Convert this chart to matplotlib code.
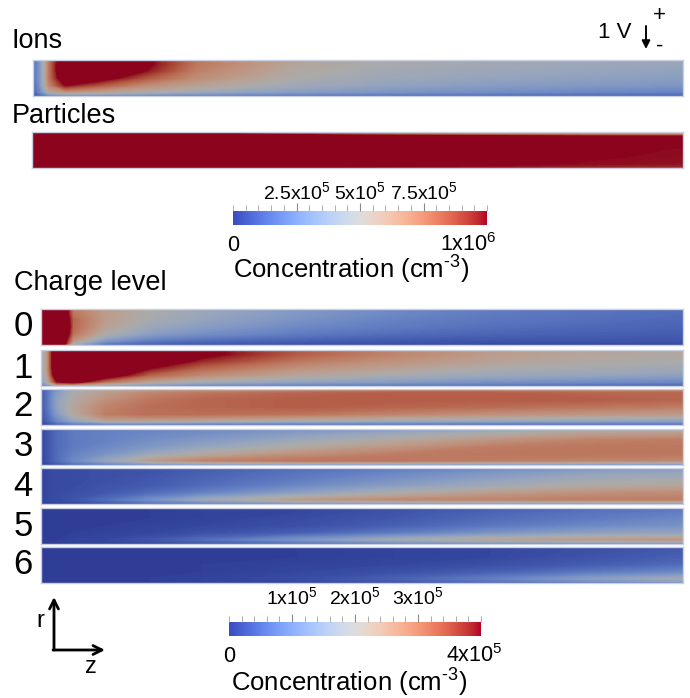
import numpy as np
import matplotlib
matplotlib.use('Agg')
import matplotlib.pyplot as plt
from matplotlib.colors import ListedColormap
import matplotlib.colorbar as mcolorbar
from matplotlib.colors import Normalize

plt.rcParams['font.family'] = ['Liberation Sans', 'DejaVu Sans']
plt.rcParams['mathtext.fontset'] = 'custom'
plt.rcParams['mathtext.rm'] = 'Liberation Sans'
plt.rcParams['mathtext.default'] = 'regular'

# ---------------- data (units of 1e5 cm^-3) ----------------
z_pos = [0, 0.01, 0.025, 0.05, 0.1, 0.17, 0.25, 0.4, 0.55, 0.7, 0.85, 1.0]   # along z
r_pos = [0, 0.04, 0.12, 0.3, 0.5, 0.7, 0.88, 0.96, 1.0]                      # depth from top edge

ions = [
    [1.5, 3.0, 7.5, 12, 12, 10.5, 7.5, 5.6, 4.9, 4.6, 4.4, 4.2],
    [1.5, 3.0, 7.5, 12, 12, 10.5, 7.5, 5.6, 4.9, 4.6, 4.4, 4.2],
    [1.5, 3.0, 7.5, 13, 13, 10.5, 7.5, 5.5, 4.8, 4.5, 4.3, 4.1],
    [1.5, 3.0, 7.5, 13, 13, 10.0, 7.2, 5.3, 4.6, 4.3, 4.1, 3.9],
    [1.4, 3.0, 7.5, 12, 11, 8.5, 6.7, 5.0, 4.3, 4.0, 3.8, 3.6],
    [1.3, 2.8, 7.0, 10, 8.5, 6.8, 5.8, 4.5, 3.9, 3.5, 3.3, 3.1],
    [1.1, 2.4, 5.5, 6.5, 6.0, 5.2, 4.5, 3.6, 3.1, 2.8, 2.5, 2.3],
    [0.8, 1.6, 3.2, 3.8, 3.5, 3.2, 2.8, 2.3, 2.0, 1.8, 1.6, 1.5],
    [0.3, 0.5, 0.8, 0.8, 0.8, 0.7, 0.6, 0.5, 0.4, 0.4, 0.4, 0.4],
]
particles = [
    [8, 8, 7, 6, 5, 3, 2, 0.5, 0, 0, 0, 0],
    [14, 14, 14, 13, 12, 11, 10, 8, 7, 6, 5.5, 5],
    [15, 15, 15, 15, 15, 15, 14, 12, 11, 10.5, 10.2, 10.0],
    [15, 15, 15, 15, 15, 15, 14, 12, 11, 10.5, 10.2, 10.0],
    [15, 15, 15, 15, 15, 15, 14, 12, 11, 10.5, 10.1, 9.9],
    [15, 15, 15, 15, 15, 14, 13, 12, 11, 10.4, 10.0, 9.85],
    [15, 15, 15, 15, 14, 13, 12, 11.5, 10.8, 10.2, 9.9, 9.8],
    [14, 14, 14, 13, 12, 11.5, 11, 10.5, 10.0, 9.8, 9.6, 9.5],
    [12, 12, 12, 11, 10.5, 10, 9.8, 9.5, 9.2, 9.0, 8.8, 8.5],
]
charge0 = [
    [8, 8, 6, 3.0, 2.4, 2.0, 1.7, 1.3, 1.0, 0.8, 0.7, 0.6],
    [8, 8, 6, 3.0, 2.4, 2.0, 1.7, 1.3, 1.0, 0.8, 0.7, 0.6],
    [8, 8, 6, 3.0, 2.4, 2.0, 1.7, 1.3, 1.0, 0.8, 0.7, 0.6],
    [8, 8, 6.5, 3.2, 2.4, 1.9, 1.6, 1.2, 0.9, 0.75, 0.65, 0.55],
    [8, 8, 7, 3.2, 2.3, 1.7, 1.4, 1.0, 0.8, 0.65, 0.55, 0.5],
    [8, 8, 6.5, 3.0, 2.0, 1.4, 1.1, 0.8, 0.6, 0.5, 0.45, 0.4],
    [8, 8, 6, 2.5, 1.3, 0.8, 0.6, 0.45, 0.35, 0.3, 0.3, 0.3],
    [8, 8, 6, 2.0, 0.8, 0.5, 0.4, 0.3, 0.25, 0.2, 0.2, 0.2],
    [8, 8, 5.5, 1.5, 0.5, 0.3, 0.2, 0.2, 0.1, 0.1, 0.1, 0.1],
]
charge1 = [
    [1.5, 2.2, 4.5, 6.5, 6.0, 4.5, 3.6, 2.9, 2.2, 1.6, 1.2, 1.0],
    [1.6, 2.5, 5.5, 8, 7.5, 5.3, 4.2, 3.3, 2.8, 2.4, 2.2, 2.1],
    [1.6, 2.5, 5.5, 8, 7.5, 5.3, 4.2, 3.3, 2.8, 2.4, 2.2, 2.1],
    [1.6, 2.5, 5.5, 8, 7.0, 4.8, 3.8, 3.0, 2.6, 2.3, 2.1, 2.0],
    [1.6, 2.5, 5.5, 7.5, 5.8, 4.0, 3.2, 2.6, 2.3, 2.0, 1.9, 1.8],
    [1.5, 2.4, 5.0, 6.5, 4.6, 3.2, 2.7, 2.2, 1.9, 1.7, 1.6, 1.5],
    [1.3, 2.1, 4.0, 4.5, 3.1, 2.3, 1.9, 1.6, 1.4, 1.2, 1.1, 1.0],
    [0.9, 1.5, 2.6, 2.7, 2.0, 1.5, 1.2, 1.0, 0.9, 0.8, 0.7, 0.6],
    [0.4, 0.7, 1.0, 1.0, 0.8, 0.6, 0.5, 0.4, 0.3, 0.3, 0.3, 0.3],
]
charge2 = [
    [0.2, 0.3, 0.6, 0.9, 1.0, 1.0, 1.0, 1.0, 1.0, 1.0, 1.0, 1.0],
    [0.3, 0.6, 1.2, 1.8, 2.2, 2.5, 2.6, 2.8, 2.9, 2.9, 2.8, 2.8],
    [0.3, 0.7, 1.4, 2.0, 2.4, 2.8, 3.0, 3.2, 3.3, 3.3, 3.2, 3.2],
    [0.3, 0.7, 1.5, 2.1, 2.6, 3.0, 3.2, 3.3, 3.3, 3.3, 3.3, 3.2],
    [0.3, 0.7, 1.5, 2.2, 2.8, 3.1, 3.2, 3.3, 3.2, 3.1, 3.0, 2.9],
    [0.3, 0.6, 1.3, 2.1, 2.9, 3.1, 3.1, 3.0, 2.8, 2.6, 2.5, 2.4],
    [0.2, 0.5, 1.0, 1.6, 2.3, 2.3, 2.2, 2.0, 1.8, 1.7, 1.6, 1.5],
    [0.1, 0.3, 0.6, 0.9, 1.1, 1.1, 1.0, 0.9, 0.9, 0.8, 0.8, 0.8],
    [0.1, 0.1, 0.2, 0.3, 0.3, 0.3, 0.3, 0.3, 0.3, 0.3, 0.3, 0.3],
]
charge3 = [
    [0.1, 0.1, 0.2, 0.3, 0.4, 0.5, 0.5, 0.6, 0.7, 0.7, 0.8, 0.8],
    [0.1, 0.3, 0.5, 0.7, 0.8, 0.9, 1.0, 1.2, 1.4, 1.6, 1.8, 1.9],
    [0.1, 0.3, 0.6, 0.8, 0.9, 1.0, 1.1, 1.4, 1.7, 2.0, 2.3, 2.4],
    [0.1, 0.3, 0.6, 0.8, 0.9, 1.1, 1.3, 1.7, 2.1, 2.5, 2.8, 2.9],
    [0.1, 0.3, 0.6, 0.8, 1.0, 1.3, 1.6, 2.1, 2.5, 2.9, 3.0, 3.0],
    [0.1, 0.3, 0.6, 0.9, 1.2, 1.7, 2.1, 2.6, 2.9, 3.0, 3.0, 3.0],
    [0.1, 0.3, 0.6, 1.0, 1.6, 2.4, 2.8, 3.0, 3.0, 2.9, 2.8, 2.7],
    [0.1, 0.2, 0.4, 0.7, 1.1, 1.5, 1.7, 1.9, 1.9, 1.8, 1.7, 1.6],
    [0.1, 0.1, 0.2, 0.3, 0.4, 0.5, 0.5, 0.5, 0.5, 0.5, 0.5, 0.5],
]
charge4 = [
    [0.1, 0.1, 0.1, 0.1, 0.1, 0.15, 0.2, 0.3, 0.4, 0.5, 0.6, 0.7],
    [0.1, 0.15, 0.2, 0.2, 0.25, 0.3, 0.4, 0.6, 0.8, 1.0, 1.25, 1.4],
    [0.1, 0.15, 0.2, 0.2, 0.25, 0.3, 0.45, 0.7, 0.95, 1.25, 1.5, 1.6],
    [0.1, 0.15, 0.2, 0.2, 0.25, 0.35, 0.5, 0.8, 1.15, 1.5, 1.8, 1.9],
    [0.1, 0.15, 0.2, 0.2, 0.3, 0.4, 0.6, 1.0, 1.45, 1.8, 2.1, 2.2],
    [0.1, 0.15, 0.2, 0.25, 0.35, 0.6, 0.9, 1.5, 2.0, 2.4, 2.6, 2.7],
    [0.1, 0.15, 0.2, 0.3, 0.6, 1.1, 1.7, 2.4, 2.7, 2.8, 2.9, 2.9],
    [0.1, 0.1, 0.15, 0.2, 0.4, 0.8, 1.1, 1.5, 1.7, 1.8, 1.8, 1.8],
    [0.05, 0.05, 0.1, 0.1, 0.2, 0.3, 0.4, 0.5, 0.5, 0.5, 0.5, 0.5],
]
charge5 = [
    [0.05, 0.05, 0.05, 0.05, 0.05, 0.05, 0.05, 0.1, 0.15, 0.2, 0.25, 0.3],
    [0.05, 0.05, 0.05, 0.05, 0.05, 0.05, 0.1, 0.15, 0.25, 0.4, 0.55, 0.7],
    [0.05, 0.05, 0.05, 0.05, 0.05, 0.05, 0.1, 0.15, 0.3, 0.5, 0.7, 0.85],
    [0.05, 0.05, 0.05, 0.05, 0.05, 0.05, 0.1, 0.2, 0.35, 0.6, 0.8, 1.0],
    [0.05, 0.05, 0.05, 0.05, 0.05, 0.1, 0.15, 0.25, 0.45, 0.75, 1.0, 1.2],
    [0.05, 0.05, 0.05, 0.05, 0.1, 0.15, 0.25, 0.45, 0.8, 1.2, 1.5, 1.6],
    [0.05, 0.05, 0.05, 0.1, 0.15, 0.3, 0.6, 1.2, 1.8, 2.2, 2.4, 2.5],
    [0.05, 0.05, 0.05, 0.1, 0.1, 0.2, 0.4, 0.8, 1.2, 1.4, 1.5, 1.6],
    [0.05, 0.05, 0.05, 0.05, 0.05, 0.1, 0.2, 0.3, 0.4, 0.5, 0.5, 0.5],
]
charge6 = [
    [0.05, 0.05, 0.05, 0.05, 0.05, 0.05, 0.05, 0.05, 0.05, 0.05, 0.1, 0.1],
    [0.05, 0.05, 0.05, 0.05, 0.05, 0.05, 0.05, 0.05, 0.1, 0.15, 0.25, 0.35],
    [0.05, 0.05, 0.05, 0.05, 0.05, 0.05, 0.05, 0.05, 0.1, 0.15, 0.25, 0.4],
    [0.05, 0.05, 0.05, 0.05, 0.05, 0.05, 0.05, 0.05, 0.1, 0.15, 0.3, 0.45],
    [0.05, 0.05, 0.05, 0.05, 0.05, 0.05, 0.05, 0.1, 0.15, 0.25, 0.4, 0.6],
    [0.05, 0.05, 0.05, 0.05, 0.05, 0.05, 0.05, 0.15, 0.25, 0.45, 0.75, 1.0],
    [0.05, 0.05, 0.05, 0.05, 0.05, 0.05, 0.1, 0.2, 0.45, 0.85, 1.4, 1.8],
    [0.05, 0.05, 0.05, 0.05, 0.05, 0.05, 0.1, 0.15, 0.35, 0.7, 1.1, 1.5],
    [0.05, 0.05, 0.05, 0.05, 0.05, 0.05, 0.05, 0.1, 0.1, 0.2, 0.3, 0.5],
]
charge_fields = [charge0, charge1, charge2, charge3, charge4, charge5, charge6]
charge_labels = ['0', '1', '2', '3', '4', '5', '6']

cbar1_max = 10      # 1x10^6
cbar1_ticks = [2.5, 5, 7.5]
cbar1_ticklabels = [r'2.5x10$^5$', r'5x10$^5$', r'7.5x10$^5$']
cbar2_max = 4       # 4x10^5
cbar2_ticks = [1, 2, 3]
cbar2_ticklabels = [r'1x10$^5$', r'2x10$^5$', r'3x10$^5$']

# ---------------- styling ----------------
W, H = 690, 698
fig = plt.figure(figsize=(W / 100, H / 100), dpi=100)

base = plt.get_cmap('coolwarm')
shade_cols = base(np.linspace(0, 1, 256))
shade_cols[:, :3] *= 0.77
shaded = ListedColormap(shade_cols)
shaded.set_over(shade_cols[-1])
shaded.set_under(shade_cols[0])


def px_axes(x0, y0, x1, y1):
    return fig.add_axes([x0 / W, 1 - y1 / H, (x1 - x0) / W, (y1 - y0) / H])


def strip(x0, y0, x1, y1, data, vmax):
    ax = px_axes(x0, y0, x1, y1)
    ZZ, RR = np.meshgrid(z_pos, r_pos)
    ax.contourf(ZZ, RR, np.array(data, dtype=float),
                levels=np.linspace(0, vmax, 161), cmap=shaded,
                extend='both', antialiased=False)
    ax.set_xlim(0, 1)
    ax.set_ylim(1, 0)
    ax.set_xticks([])
    ax.set_yticks([])
    for s in ax.spines.values():
        s.set_color('#c9d0e2')
        s.set_linewidth(1.0)
    return ax


def cbar(x0, y0, x1, y1, vmax, ticks, minor_step):
    cax = px_axes(x0, y0, x1, y1)
    cb = mcolorbar.ColorbarBase(cax, cmap=base, norm=Normalize(0, vmax),
                                orientation='horizontal')
    cb.outline.set_visible(False)
    cax.xaxis.set_ticks_position('top')
    cax.set_xticks(ticks)
    cax.set_xticklabels([])
    cax.set_xticks(np.arange(0, vmax + 1e-9, minor_step), minor=True)
    cax.tick_params(axis='x', which='major', length=6, width=0.8, color='#8a8a8a', direction='out')
    cax.tick_params(axis='x', which='minor', length=4, width=0.6, color='#a0a0a0', direction='out')
    cax.set_yticks([])
    return cax


# strips
strip(33, 60, 683, 96, ions, cbar1_max)
strip(32, 132, 683, 168, particles, cbar1_max)
charge_tops = [309, 350, 389, 429, 468, 508, 547]
for top, field in zip(charge_tops, charge_fields):
    strip(41, top, 683, top + 36, field, cbar2_max)

# colorbars
c1 = (233, 211, 487, 225)
cbar(*c1, cbar1_max, cbar1_ticks, 0.5)
c2 = (229, 622, 481, 636)
cbar(*c2, cbar2_max, cbar2_ticks, 0.2)

# overlay in pixel coordinates
ov = fig.add_axes([0, 0, 1, 1], facecolor='none')
ov.set_xlim(0, W)
ov.set_ylim(H, 0)
ov.axis('off')

ov.text(12, 48, 'Ions', fontsize=19.5, ha='left', va='baseline')
ov.text(12, 123, 'Particles', fontsize=19.5, ha='left', va='baseline')
ov.text(14, 290, 'Charge level', fontsize=19.5, ha='left', va='baseline')
for top, lab in zip(charge_tops, charge_labels):
    ov.text(23, top + 18, lab, fontsize=25, ha='center', va='center')

cm_label = r'Concentration (cm$^{\text{-3}}$)'

# colorbar 1 labels
for t, lab in zip(cbar1_ticks, cbar1_ticklabels):
    ov.text(c1[0] + (c1[2] - c1[0]) * t / cbar1_max, 199, lab, fontsize=14,
            ha='center', va='baseline')
ov.text(c1[0], 251, '0', fontsize=15.5, ha='center', va='baseline')
ov.text(497, 251, r'1x10$^6$', fontsize=15.5, ha='right', va='baseline')
ov.text(233, 279, cm_label, fontsize=18.5, ha='left', va='baseline')

# colorbar 2 labels
for t, lab in zip(cbar2_ticks, cbar2_ticklabels):
    ov.text(c2[0] + (c2[2] - c2[0]) * t / cbar2_max, 604, lab, fontsize=14,
            ha='center', va='baseline')
ov.text(c2[0], 662, '0', fontsize=15.5, ha='center', va='baseline')
ov.text(503, 662, r'4x10$^5$', fontsize=15.5, ha='right', va='baseline')
ov.text(231, 692, cm_label, fontsize=18.5, ha='left', va='baseline')

# voltage indicator
ov.text(598, 38, '1 V', fontsize=16, ha='left', va='baseline')
ov.annotate('', xy=(646, 49), xytext=(646, 26),
            arrowprops=dict(arrowstyle='-|>', lw=1.4, color='black', mutation_scale=12,
                            shrinkA=0, shrinkB=0))
ov.text(659, 21, '+', fontsize=16, ha='center', va='baseline')
ov.text(660, 52, '-', fontsize=16, ha='center', va='baseline')

# r / z axes indicator
ov.annotate('', xy=(54, 597), xytext=(54, 650),
            arrowprops=dict(arrowstyle='->', lw=2, color='black', mutation_scale=16,
                            shrinkA=0, shrinkB=0))
ov.annotate('', xy=(105, 650), xytext=(53, 650),
            arrowprops=dict(arrowstyle='->', lw=2, color='black', mutation_scale=16,
                            shrinkA=0, shrinkB=0))
ov.text(40, 627, 'r', fontsize=17, ha='center', va='baseline')
ov.text(91, 673, 'z', fontsize=17, ha='center', va='baseline')

fig.savefig('out.png', dpi=100)
